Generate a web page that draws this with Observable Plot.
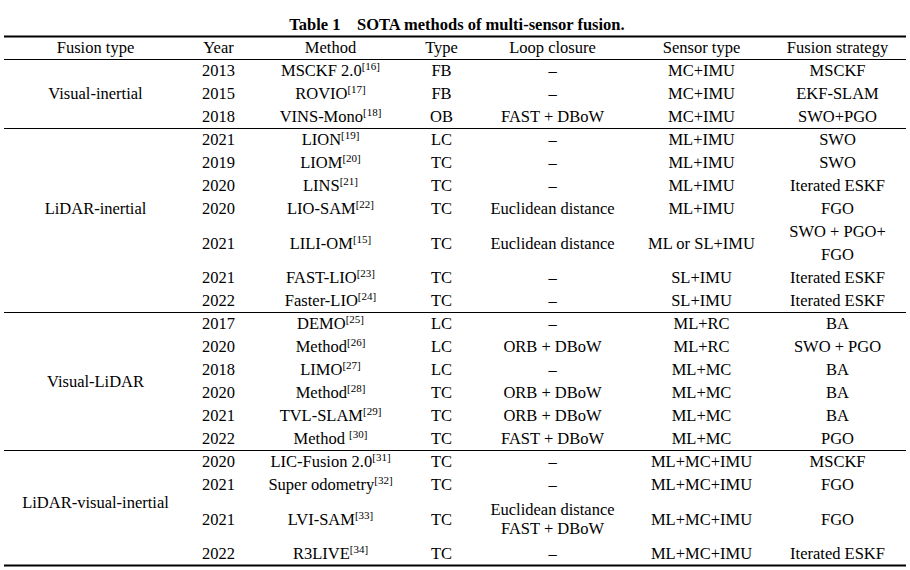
<!DOCTYPE html>
<html><head><meta charset="utf-8">
<script src="https://cdn.jsdelivr.net/npm/d3@7"></script>
<script src="https://cdn.jsdelivr.net/npm/@observablehq/plot@0.6"></script>
<style>
body{margin:0;background:#fff;font-family:"Liberation Serif","Times New Roman",serif;}
#title{width:914px;height:34px;box-sizing:border-box;padding-top:16px;text-align:center;font-weight:bold;font-size:16.5px;line-height:18px;white-space:pre;color:#000}
#chart svg{font-family:"Liberation Serif","Times New Roman",serif !important;}
</style></head><body>
<div id="title">Table 1    SOTA methods of multi-sensor fusion.</div>
<div id="chart"></div>
<script>
// ---- data ----
const headers = ["Fusion type","Year","Method","Type","Loop closure","Sensor type","Fusion strategy"];
const groups = ["Visual-inertial","LiDAR-inertial","Visual-LiDAR","LiDAR-visual-inertial"];
const groupOf = [0,0,0,1,1,1,1,1,1,1,2,2,2,2,2,2,3,3,3,3];
const years = ["2013","2015","2018","2021","2019","2020","2020","2021","2021","2022","2017","2020","2018","2020","2021","2022","2020","2021","2021","2022"];
const methods = ["MSCKF 2.0","ROVIO","VINS-Mono","LION","LIOM","LINS","LIO-SAM","LILI-OM","FAST-LIO","Faster-LIO","DEMO","Method","LIMO","Method","TVL-SLAM","Method ","LIC-Fusion 2.0","Super odometry","LVI-SAM","R3LIVE"];
const refs = [16,17,18,19,20,21,22,15,23,24,25,26,27,28,29,30,31,32,33,34];
const types = ["FB","FB","OB","LC","TC","TC","TC","TC","TC","TC","LC","LC","LC","TC","TC","TC","TC","TC","TC","TC"];
const loops = ["–","–","FAST + DBoW","–","–","–","Euclidean distance","Euclidean distance","–","–","–","ORB + DBoW","–","ORB + DBoW","ORB + DBoW","FAST + DBoW","–","–","Euclidean distance\nFAST + DBoW","–"];
const sensors = ["MC+IMU","MC+IMU","MC+IMU","ML+IMU","ML+IMU","ML+IMU","ML+IMU","ML or SL+IMU","SL+IMU","SL+IMU","ML+RC","ML+RC","ML+MC","ML+MC","ML+MC","ML+MC","ML+MC+IMU","ML+MC+IMU","ML+MC+IMU","ML+MC+IMU"];
const strategies = ["MSCKF","EKF-SLAM","SWO+PGO","SWO","SWO","Iterated ESKF","FGO","SWO + PGO+\nFGO","Iterated ESKF","Iterated ESKF","BA","SWO + PGO","BA","BA","BA","PGO","MSCKF","FGO","FGO","Iterated ESKF"];

// ---- layout (column widths in table units) ----
const colWidths = [182, 64, 160, 62, 160, 138, 134];
const colCenters = colWidths.map((w, i) => d3.sum(colWidths.slice(0, i)) + w / 2);

// row positions (in row units), taller rows for multi-line cells
const nLines = years.map((_, i) => Math.max(loops[i].split("\n").length, strategies[i].split("\n").length));
const rowK = [];
let k = 0, prevH = 1;
nLines.forEach((h, i) => { k += (prevH + h) / 2; rowK.push(k); prevH = h; });
const rows = years.map((y, i) => ({
  k: rowK[i], year: y, method: `${methods[i]}[${refs[i]}]`, type: types[i],
  loop: loops[i], sensor: sensors[i], strategy: strategies[i], h: nLines[i]
}));
const groupRows = groups.map((g, gi) => rows.filter((r, i) => groupOf[i] === gi));
const groupLabels = groups.map((g, gi) => ({label: g, k: d3.median(groupRows[gi], r => r.k)}));
const bounds = groupRows.map(rs => rs[rs.length - 1].k + rs[rs.length - 1].h / 2);
const lastK = bounds[bounds.length - 1];
const thinRules = [{k: 0.5}, ...bounds.slice(0, -1).map(b => ({k: b}))];
const thickRules = [{k: -0.5}, {k: lastK}];
const headerData = headers.map((h, i) => ({h, x: colCenters[i], k: 0}));

const single = f => d => !d[f].includes("\n");
const multi = f => d => d[f].includes("\n");
const col = (field, ci, opts = {}) => Plot.text(rows, {x: () => colCenters[ci], y: "k", text: field, fill: "#000", ...opts});

const plot = Plot.plot({
  width: 910, height: 534,
  marginLeft: 4, marginRight: 4, marginTop: 2, marginBottom: 3,
  x: {axis: null, domain: [0, 902]},
  y: {axis: null, domain: [-0.5, lastK], reverse: true},
  style: {fontFamily: "Liberation Serif, Times New Roman, serif", fontSize: "16.5px", background: "#fff", color: "#000"},
  marks: [
    Plot.ruleY(thickRules, {y: "k", stroke: "#000", strokeWidth: 1.8}),
    Plot.ruleY(thinRules, {y: "k", stroke: "#000", strokeWidth: 1}),
    Plot.text(headerData, {x: "x", y: "k", text: "h", fill: "#000"}),
    Plot.text(groupLabels, {x: () => colCenters[0], y: "k", text: "label", fill: "#000"}),
    col("year", 1),
    col("method", 2),
    col("type", 3),
    col("loop", 4, {filter: single("loop")}),
    col("loop", 4, {filter: multi("loop"), lineHeight: 1.15, dy: -1}),
    col("sensor", 5),
    col("strategy", 6, {filter: single("strategy")}),
    col("strategy", 6, {filter: multi("strategy"), lineHeight: 1.38, dy: -2})
  ]
});
document.getElementById("chart").appendChild(plot);

// superscript references
d3.select(plot).selectAll("text").each(function () {
  if (this.querySelector("tspan")) return;
  const t = this.textContent;
  const m = t.match(/^(.*?)(\[\d+\])$/);
  if (!m) return;
  const el = d3.select(this);
  el.text(null);
  el.append("tspan").attr("style", "white-space:pre").text(m[1]);
  el.append("tspan").attr("font-size", "11px").attr("dy", "-0.55em").text(m[2]);
});
</script>
</body></html>
